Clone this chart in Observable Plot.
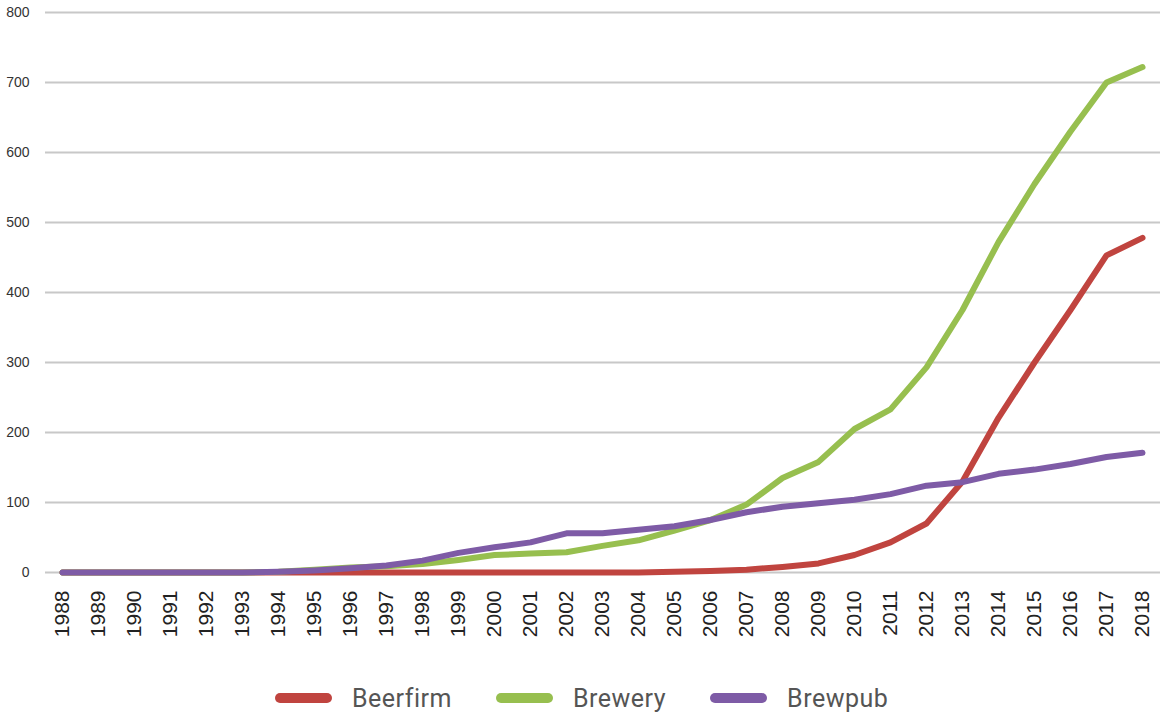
<!DOCTYPE html>
<html>
<head>
<meta charset="utf-8">
<script src="https://cdn.jsdelivr.net/npm/d3@7"></script>
<script src="https://cdn.jsdelivr.net/npm/@observablehq/plot@0.6"></script>
<style>
  html, body { margin: 0; padding: 0; background: #fff; overflow: hidden; }
  #chart { width: 1160px; }
  #legend { display: flex; align-items: center; height: 44px; margin-top: 26px; padding-left: 275px; box-sizing: border-box;
            font-family: Roboto, "Noto Sans", sans-serif; font-size: 25px; color: #555; letter-spacing: 0.5px; }
  .sw { width: 57px; height: 10px; border-radius: 5px; margin-right: 20px; }
  .lab { margin-right: 44px; }
</style>
</head>
<body>
<div id="chart"></div>
<div id="legend"></div>
<script>
const years = d3.range(1988, 2019);
const seriesNames = ["Beerfirm", "Brewery", "Brewpub"];
const seriesColors = ["#c0443f", "#97bf4f", "#7e5ba6"];
const beerfirm = [0,0,0,0,0,0,0,0,0,0,0,0,0,0,0,0,0,1,2,4,8,13,25,43,70,130,221,300,375,453,478];
const brewery  = [0,0,0,0,0,0,1,4,7,9,12,18,25,27,29,38,46,60,75,97,135,158,205,233,293,375,472,555,630,700,722];
const brewpub  = [0,0,0,0,0,0,1,3,6,10,17,28,36,43,56,56,61,66,75,86,94,99,104,112,124,129,141,147,155,165,171];
const yTicks = [0,100,200,300,400,500,600,700,800];

const valuesBySeries = [beerfirm, brewery, brewpub];
const rows = [];
seriesNames.forEach((s, i) => years.forEach((y, j) => rows.push({year: y, value: valuesBySeries[i][j], series: s})));

const chart = Plot.plot({
  width: 1160,
  height: 650,
  marginLeft: 62,
  marginRight: 18,
  marginTop: 12,
  marginBottom: 78,
  style: {fontFamily: "'Liberation Sans', Arial, sans-serif", background: "#fff"},
  x: {type: "linear", domain: [1988, 2018]},
  y: {domain: [0, 800]},
  color: {domain: seriesNames, range: seriesColors},
  marks: [
    Plot.ruleY(yTicks, {stroke: "#c8c8c8", strokeWidth: 2, insetLeft: -17, insetRight: -18}),
    Plot.axisY({ticks: yTicks, tickSize: 0, tickPadding: 33, label: null, fontSize: 14, fill: "#333"}),
    Plot.axisX({ticks: years, tickFormat: "d", tickSize: 0, tickPadding: 18, tickRotate: -90, label: null, fontSize: 21, fill: "#222"}),
    Plot.line(rows, {x: "year", y: "value", z: "series", stroke: "series", strokeWidth: 6,
                     strokeLinecap: "round", strokeLinejoin: "round"})
  ]
});
document.getElementById("chart").appendChild(chart);

const legend = document.getElementById("legend");
seriesNames.forEach((s, i) => {
  const sw = document.createElement("div");
  sw.className = "sw";
  sw.style.background = seriesColors[i];
  const lab = document.createElement("span");
  lab.className = "lab";
  lab.textContent = s;
  legend.appendChild(sw);
  legend.appendChild(lab);
});
</script>
</body>
</html>
